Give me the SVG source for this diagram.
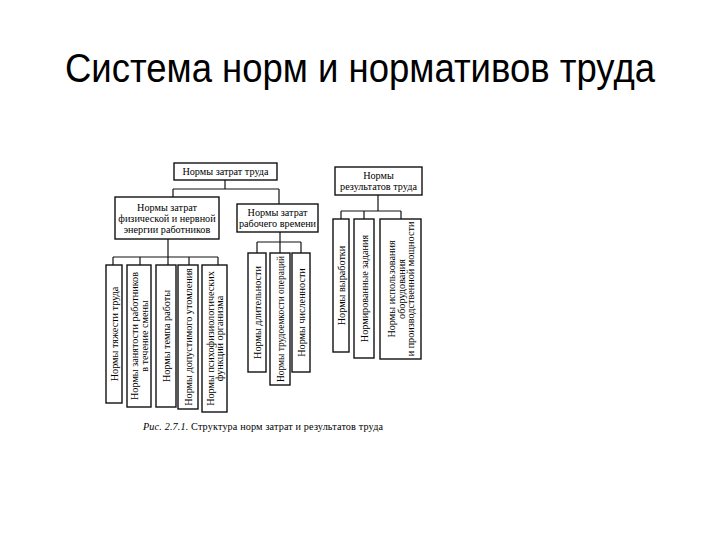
<svg xmlns="http://www.w3.org/2000/svg" width="720" height="540" viewBox="0 0 720 540">
<style>
.b{fill:#fff;stroke:#111;stroke-width:1.4}
.c{stroke:#111;stroke-width:1.2;fill:none}
.t{font-family:"Liberation Serif","DejaVu Serif",serif;font-size:10.2px;fill:#000;text-anchor:middle}
.v{font-family:"Liberation Serif","DejaVu Serif",serif;font-size:10.2px;fill:#000;text-anchor:middle}
</style>
<rect width="720" height="540" fill="#fff"/>
<text x="360" y="82" font-family="'Liberation Sans','Open Sans',sans-serif" font-size="40" fill="#000" text-anchor="middle" textLength="590" lengthAdjust="spacingAndGlyphs">Система норм и нормативов труда</text>

<g id="connectors">
<path class="c" d="M225,180V189M173,189H279M173,189V197M279,189V204"/>
<path class="c" d="M168,239V257M113,257H218M113,257V265M140,257V265M168,257V265M189,257V265M218,257V265"/>
<path class="c" d="M280,232V242M257,242H301M257,242V253M280,242V253M301,242V253"/>
<path class="c" d="M378,195V211M341,211H401M341,211V219M364,211V219M401,211V219"/>
</g>

<g id="n-zatrat">
<rect class="b" x="174" y="163" width="103" height="17"/>
<text class="t" x="225.5" y="175">Нормы затрат труда</text>
</g>
<g id="n-energy">
<rect class="b" x="115" y="197" width="104" height="42"/>
<text class="t" x="167" y="211">Нормы затрат</text>
<text class="t" x="167" y="222">физической и нервной</text>
<text class="t" x="167" y="233">энергии работников</text>
</g>
<g id="n-time">
<rect class="b" x="237" y="204" width="81" height="28"/>
<text class="t" x="277.5" y="216">Нормы затрат</text>
<text class="t" x="277.5" y="227">рабочего времени</text>
</g>
<g id="n-results">
<rect class="b" x="335" y="167" width="87" height="28"/>
<text class="t" x="378.5" y="179">Нормы</text>
<text class="t" x="378.5" y="190">результатов труда</text>
</g>

<g id="n-l1">
<rect class="b" x="106" y="265" width="16" height="138"/>
<text class="v" transform="translate(117.5,334) rotate(-90)">Нормы тяжести труда</text>
</g>
<g id="n-l2">
<rect class="b" x="127" y="265" width="24" height="142"/>
<text class="v" transform="translate(138,336) rotate(-90)">Нормы занятости работников<tspan x="0" dy="9.5">в течение смены</tspan></text>
</g>
<g id="n-l3">
<rect class="b" x="156" y="265" width="20" height="142"/>
<text class="v" transform="translate(169.5,336) rotate(-90)">Нормы темпа работы</text>
</g>
<g id="n-l4">
<rect class="b" x="178" y="265" width="20" height="144"/>
<text class="v" transform="translate(191.5,337) rotate(-90)">Нормы допустимого утомления</text>
</g>
<g id="n-l5">
<rect class="b" x="202" y="265" width="25" height="147"/>
<text class="v" transform="translate(213.5,338.5) rotate(-90)">Нормы психофизиологических<tspan x="0" dy="9.5">функций организма</tspan></text>
</g>

<g id="n-m1">
<rect class="b" x="248" y="253" width="18" height="119"/>
<text class="v" transform="translate(260.5,312.5) rotate(-90)">Нормы длительности</text>
</g>
<g id="n-m2">
<rect class="b" x="270" y="253" width="20" height="132"/>
<text class="v" transform="translate(283.5,319) rotate(-90)" textLength="126" lengthAdjust="spacingAndGlyphs">Нормы трудоемкости операций</text>
</g>
<g id="n-m3">
<rect class="b" x="292" y="253" width="18" height="119"/>
<text class="v" transform="translate(304.5,312.5) rotate(-90)">Нормы численности</text>
</g>

<g id="n-r1">
<rect class="b" x="333" y="219" width="16" height="133"/>
<text class="v" transform="translate(344.5,285.5) rotate(-90)">Нормы выработки</text>
</g>
<g id="n-r2">
<rect class="b" x="354" y="219" width="20" height="139"/>
<text class="v" transform="translate(367.5,288.5) rotate(-90)">Нормированные задания</text>
</g>
<g id="n-r3">
<rect class="b" x="380" y="219" width="41" height="140"/>
<text class="v" transform="translate(395,289) rotate(-90)">Нормы использования<tspan x="0" dy="9.5">оборудования</tspan><tspan x="0" dy="9.5">и производственной мощности</tspan></text>
</g>

<text x="143" y="430" font-family="'Liberation Serif',serif" font-size="10.2" fill="#000" textLength="240" lengthAdjust="spacing"><tspan font-style="italic">Рис. 2.7.1.</tspan> Структура норм затрат и результатов труда</text>
</svg>
